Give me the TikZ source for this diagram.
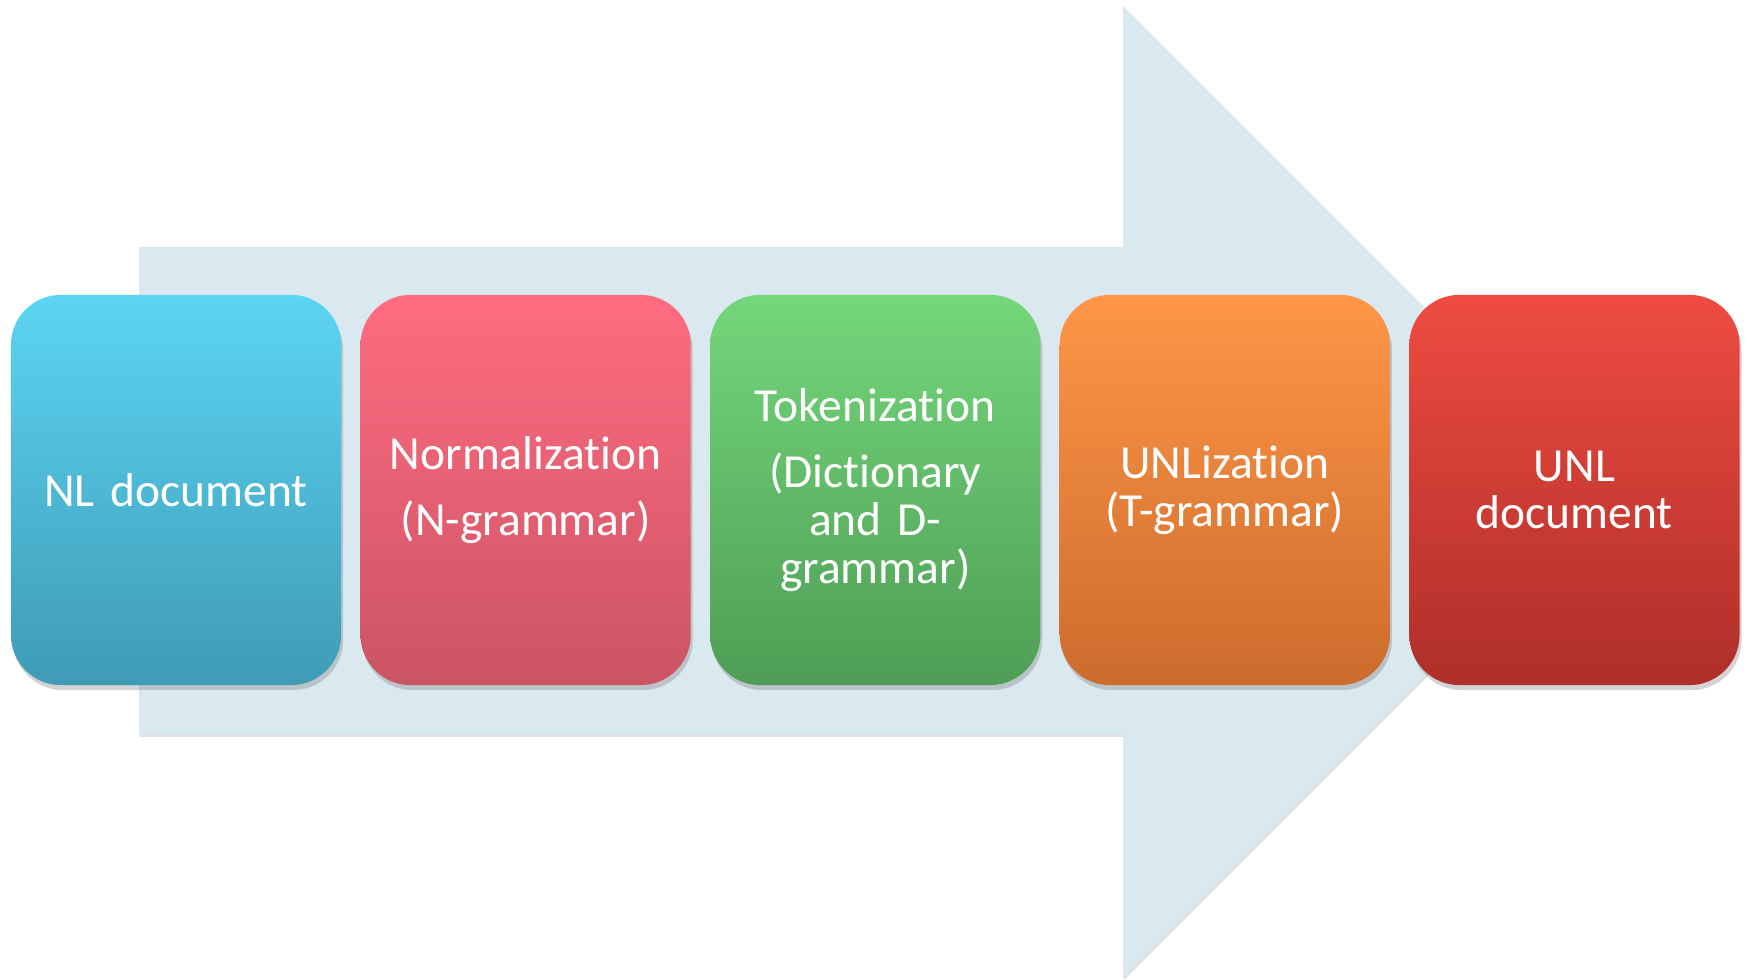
\documentclass[tikz,border=0pt]{standalone}
\usepackage{fontspec}
\setmainfont[Ligatures=NoCommon, WordSpace=0.8]{Carlito}
\usetikzlibrary{positioning,shadows}

\definecolor{flowblue}{HTML}{DAE8EF}
\definecolor{nltop}{HTML}{5BD5F3}
\definecolor{nlbot}{HTML}{3F9BB6}
\definecolor{normtop}{HTML}{FF6C81}
\definecolor{normbot}{HTML}{CB5464}
\definecolor{toktop}{HTML}{74D77B}
\definecolor{tokbot}{HTML}{4F9D55}
\definecolor{unltop}{HTML}{FF9647}
\definecolor{unlbot}{HTML}{CC6C2D}
\definecolor{doctop}{HTML}{EE4B41}
\definecolor{docbot}{HTML}{AE2F29}

\begin{document}
\begin{tikzpicture}[
    x=0.01cm, y=-0.01cm,
    node distance=0.18cm,
    stage/.style={rectangle, rounded corners=0.5cm, inner sep=0.1cm, text width=3.1cm,
        minimum height=3.9cm, align=center, text=white,
        font=\fontsize{13.5}{13.6}\selectfont,
        drop shadow={opacity=0.35, shadow xshift=0.02cm, shadow yshift=-0.05cm}},
    flow/.style={fill=flowblue,
        drop shadow={opacity=0.25, shadow xshift=0.01cm, shadow yshift=-0.02cm}}
]

\useasboundingbox (0,0) rectangle (1747,980);

% Big arrow behind the stages
\fill[flow] (139,247) -- (1123,247) -- (1123,6) -- (1609,492) -- (1123,978)
    -- (1123,735) -- (139,735) -- cycle;

% Stages
\node[stage, top color=nltop, bottom color=nlbot] (nl) at (176,490) {NL document};
\node[stage, right=of nl, top color=normtop, bottom color=normbot] (norm) {Normalization\\[0.18cm](N-grammar)};
\node[stage, right=of norm, top color=toktop, bottom color=tokbot] (tok) {Tokenization\\[0.18cm](Dictionary\\and D-\\grammar)};
\node[stage, right=of tok, top color=unltop, bottom color=unlbot] (unl) {UNLization\\(T-grammar)};
\node[stage, right=of unl, top color=doctop, bottom color=docbot] (doc) {UNL\\document};

\end{tikzpicture}
\end{document}
